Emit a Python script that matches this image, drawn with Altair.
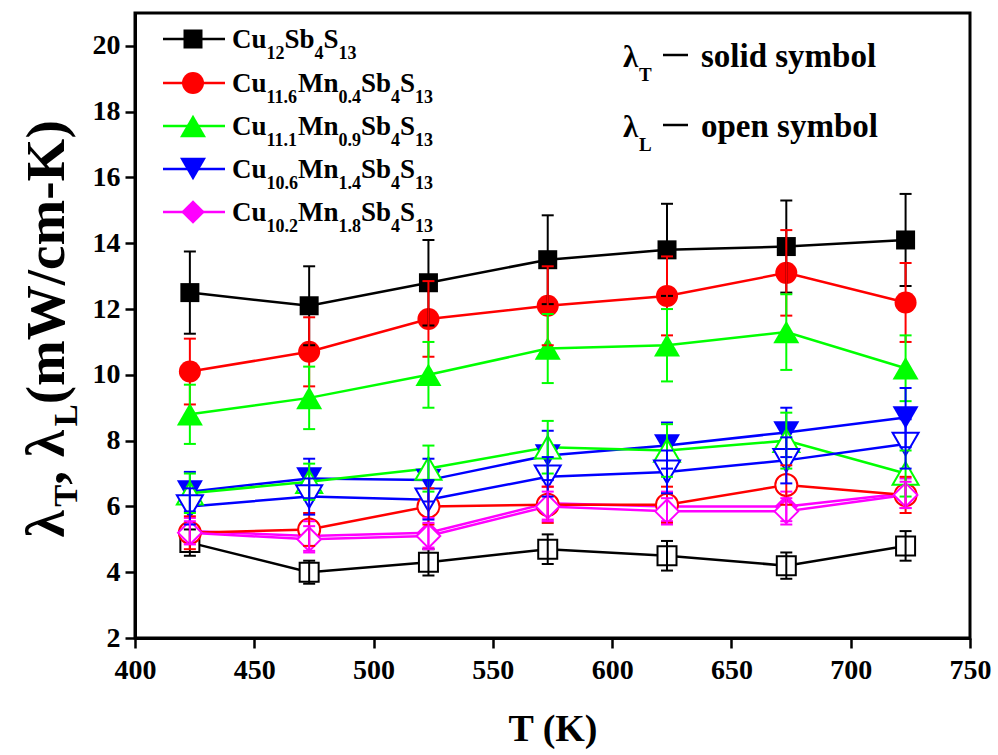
import re
import altair as alt
import pandas as pd

# ---------------------------------------------------------------- data
T = [423, 473, 523, 573, 623, 673, 723]

names = ["Cu12Sb4S13", "Cu11.6Mn0.4Sb4S13", "Cu11.1Mn0.9Sb4S13",
         "Cu10.6Mn1.4Sb4S13", "Cu10.2Mn1.8Sb4S13"]

# total thermal conductivity lambda_T (solid symbols), mW/cm-K
lt_cu12 = [12.5, 12.1, 12.8, 13.5, 13.8, 13.9, 14.1]
lt_mn04 = [10.1, 10.7, 11.7, 12.1, 12.4, 13.1, 12.2]
lt_mn09 = [8.8, 9.3, 10.0, 10.8, 10.9, 11.3, 10.2]
lt_mn14 = [6.45, 6.85, 6.8, 7.55, 7.85, 8.25, 8.7]
lt_mn18 = [5.25, 5.1, 5.2, 6.1, 6.0, 6.0, 6.4]

lt_cu12_err = [1.25, 1.2, 1.3, 1.35, 1.4, 1.4, 1.4]
lt_mn04_err = [1.0, 1.05, 1.15, 1.2, 1.2, 1.3, 1.2]
lt_mn09_err = [0.9, 0.95, 1.0, 1.05, 1.1, 1.15, 1.0]
lt_mn14_err = [0.6, 0.6, 0.65, 0.75, 0.7, 0.75, 0.9]
lt_mn18_err = [0.4, 0.45, 0.45, 0.5, 0.45, 0.45, 0.45]

# lattice thermal conductivity lambda_L (open symbols), mW/cm-K
ll_cu12 = [4.9, 4.0, 4.3, 4.7, 4.5, 4.2, 4.8]
ll_mn04 = [5.2, 5.3, 6.0, 6.05, 6.05, 6.65, 6.35]
ll_mn09 = [6.4, 6.75, 7.15, 7.8, 7.7, 8.0, 7.0]
ll_mn14 = [6.0, 6.3, 6.2, 6.9, 7.05, 7.4, 7.9]
ll_mn18 = [5.2, 5.0, 5.1, 6.0, 5.85, 5.85, 6.35]

ll_cu12_err = [0.4, 0.35, 0.4, 0.45, 0.45, 0.4, 0.45]
ll_mn04_err = [0.5, 0.5, 0.55, 0.55, 0.55, 0.6, 0.55]
ll_mn09_err = [0.6, 0.55, 0.7, 0.8, 0.8, 0.85, 0.7]
ll_mn14_err = [0.55, 0.55, 0.6, 0.6, 0.65, 0.7, 0.75]
ll_mn18_err = [0.35, 0.4, 0.4, 0.45, 0.4, 0.4, 0.4]

x_ticks = [400, 450, 500, 550, 600, 650, 700, 750]
y_ticks = [2, 4, 6, 8, 10, 12, 14, 16, 18, 20]

# ---------------------------------------------------------------- styles
colors = ["#000000", "#ff0000", "#00ff00", "#0000ff", "#ff00ff"]
shapes = ["square", "circle", "triangle-up", "triangle-down", "diamond"]
sym_size = [361, 484, 676, 676, 560]

solid_vals = [lt_cu12, lt_mn04, lt_mn09, lt_mn14, lt_mn18]
solid_errs = [lt_cu12_err, lt_mn04_err, lt_mn09_err, lt_mn14_err, lt_mn18_err]
open_vals = [ll_cu12, ll_mn04, ll_mn09, ll_mn14, ll_mn18]
open_errs = [ll_cu12_err, ll_mn04_err, ll_mn09_err, ll_mn14_err, ll_mn18_err]

W, H = 835, 625
SERIF = "Liberation Serif"

x_scale = alt.Scale(domain=[400, 750], nice=False, zero=False)
y_scale = alt.Scale(domain=[2, 21], nice=False, zero=False)
x_axis = alt.Axis(values=x_ticks, title="T (K)", labelPadding=8, labelFlush=False,
                  labelOverlap=False, titlePadding=26, titleFontSize=38, format="d")
y_axis = alt.Axis(values=y_ticks, title=None, labelPadding=5, labelOverlap=False,
                  format="d")


def frame(vals, errs):
    return pd.DataFrame({
        "T": T,
        "v": vals,
        "lo": [a - b for a, b in zip(vals, errs)],
        "hi": [a + b for a, b in zip(vals, errs)],
    })


X = alt.X("T:Q", scale=x_scale, axis=x_axis)


def Y(field):
    return alt.Y(f"{field}:Q", scale=y_scale, axis=y_axis)


line_layers, point_layers, err_layers = [], [], []
for kind, vals_set, errs_set in (("solid", solid_vals, solid_errs),
                                 ("open", open_vals, open_errs)):
    for vals, errs, col, shp, sz in zip(vals_set, errs_set, colors, shapes, sym_size):
        df = frame(vals, errs)
        base = alt.Chart(df)
        line_layers.append(
            base.mark_line(color=col, strokeWidth=2.5).encode(x=X, y=Y("v")))
        if kind == "solid":
            pm = base.mark_point(shape=shp, size=sz, filled=True, color=col,
                                 opacity=1, strokeWidth=0)
        else:
            pm = base.mark_point(shape=shp, size=sz, filled=True, fill="white",
                                 stroke=col, strokeWidth=2, opacity=1,
                                 fillOpacity=1, strokeOpacity=1)
        point_layers.append(pm.encode(x=X, y=Y("v")))
        err_layers.append(
            base.mark_rule(color=col, strokeWidth=2).encode(
                x=X, y=Y("lo"), y2="hi"))
        for end in ("lo", "hi"):
            err_layers.append(
                base.mark_tick(color=col, orient="horizontal", size=12,
                               thickness=2, opacity=1).encode(x=X, y=Y(end)))

data_chart = alt.layer(*line_layers, *point_layers, *err_layers)

# ---------------------------------------------------------------- text helpers
TIMES_BOLD = {
    "C": 722, "u": 556, "S": 556, "b": 556, "M": 944, "n": 556, ".": 250,
    " ": 250, "(": 333, ")": 333, ",": 250, "/": 278, "-": 333, "K": 778,
    "W": 1000, "T": 667, "L": 667, "m": 833, "c": 444, "λ": 560,
}


def text_w(s, size):
    return sum(TIMES_BOLD.get(ch, 500) for ch in s) * size / 1000.0


# legend (pixel positions relative to the plot origin)
LEG_ROWS = [26, 70, 113, 156, 199]
LEG_MAIN, LEG_SUB = 27, 18
leg_lines, leg_syms, txt = [], [], []
for name, col, shp, sz, yc in zip(names, colors, shapes, sym_size, LEG_ROWS):
    leg_lines.append({"x": 28, "x2": 90, "y": yc, "c": col})
    leg_syms.append({"x": 58, "y": yc, "c": col, "s": shp, "sz": sz})
    cx = 97
    for part in re.findall(r"[A-Za-z]+|[0-9.]+", name):
        if part[0].isalpha():
            txt.append({"x": cx, "y": yc + 9, "t": part, "fs": LEG_MAIN})
            cx += text_w(part, LEG_MAIN)
        else:
            txt.append({"x": cx, "y": yc + 20, "t": part, "fs": LEG_SUB})
            cx += text_w(part, LEG_SUB)

# solid / open symbol note
for base_y, sub, word in ((54, "T", "solid symbol"), (124, "L", "open symbol")):
    txt.append({"x": 488, "y": base_y, "t": "λ", "fs": 31})
    txt.append({"x": 504, "y": base_y + 14, "t": sub, "fs": 19})
    txt.append({"x": 566, "y": base_y, "t": word, "fs": 33})
    leg_lines.append({"x": 528, "x2": 553, "y": base_y - 12, "c": "#000000"})

ann_x = alt.X("x:Q", scale=None, axis=None)
ann_y = alt.Y("y:Q", scale=None, axis=None)

legend_lines = alt.Chart(pd.DataFrame(leg_lines)).mark_rule(strokeWidth=2.5).encode(
    x=ann_x, x2="x2:Q", y=ann_y, color=alt.Color("c:N", scale=None))
legend_syms = alt.Chart(pd.DataFrame(leg_syms)).mark_point(
    filled=True, opacity=1, strokeWidth=0).encode(
    x=ann_x, y=ann_y, color=alt.Color("c:N", scale=None),
    shape=alt.Shape("s:N", scale=None), size=alt.Size("sz:Q", scale=None))
legend_text = alt.Chart(pd.DataFrame(txt)).mark_text(
    align="left", baseline="alphabetic", font=SERIF, fontWeight="bold",
    color="black").encode(
    x=ann_x, y=ann_y, text="t:N", size=alt.Size("fs:Q", scale=None))

# rotated y-axis title: lambda_T, lambda_L (mW/cm-K)
TITLE_MAIN, TITLE_SUB = 55, 33
title_parts = [("λ", False), ("T", True), (", λ", False), ("L", True),
               (" (mW/cm-K)", False)]
total = sum(text_w(p, TITLE_SUB if s else TITLE_MAIN) for p, s in title_parts)
base_x, start_y = 64 - 135, 309 + total / 2
ytitle = []
c = 0.0
for p, s in title_parts:
    fs = TITLE_SUB if s else TITLE_MAIN
    ytitle.append({"x": base_x + (13 if s else 0), "y": start_y - c, "t": p, "fs": fs})
    c += text_w(p, fs)
ytitle_text = alt.Chart(pd.DataFrame(ytitle)).mark_text(
    align="left", baseline="alphabetic", angle=270, font=SERIF,
    fontWeight="bold", color="black").encode(
    x=ann_x, y=ann_y, text="t:N", size=alt.Size("fs:Q", scale=None))

annotations = alt.layer(legend_lines, legend_syms, legend_text, ytitle_text)

chart = alt.layer(data_chart, annotations).resolve_scale(
    x="independent", y="independent", color="independent",
    shape="independent", size="independent"
).properties(
    width=W, height=H,
    autosize=alt.AutoSizeParams(type="none"),
    padding={"left": 135, "top": 13, "right": 28, "bottom": 117},
    background="white",
).configure_view(
    stroke="black", strokeWidth=3
).configure_axis(
    grid=False, domainColor="black", domainWidth=3,
    tickColor="black", tickWidth=2.5, tickSize=10,
    labelFont=SERIF, labelFontWeight="bold", labelFontSize=28, labelColor="black",
    titleFont=SERIF, titleFontWeight="bold", titleColor="black",
)

chart.save("out.html", embed_options={"renderer": "svg", "actions": False})
